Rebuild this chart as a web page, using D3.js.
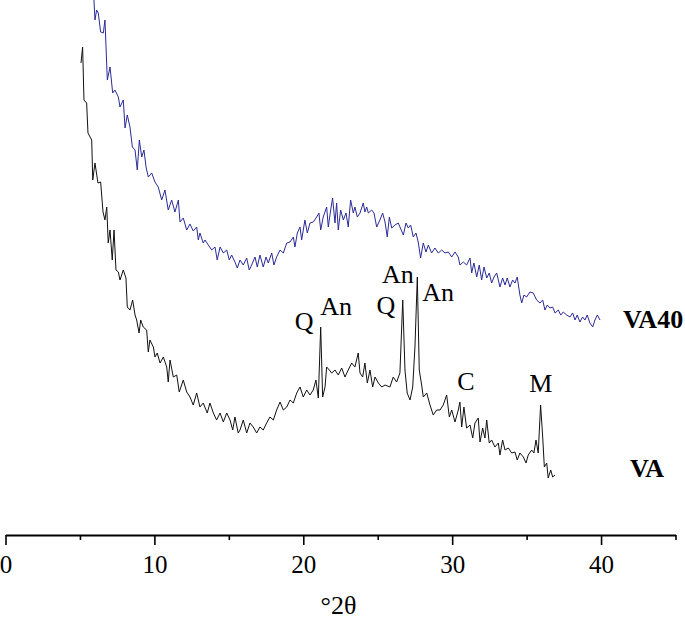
<!DOCTYPE html>
<html>
<head>
<meta charset="utf-8">
<script src="https://cdn.jsdelivr.net/npm/d3@7"></script>
<style>
  body { margin: 0; background: #fff; }
  svg { display: block; }
  svg text { font-family: "Liberation Serif", "Times New Roman", serif; }
</style>
</head>
<body>
<script>
// XRD patterns, [2theta, intensity (a.u., VA40 stacked above VA)]
const vaPattern = [
  [5.07,472],[5.18,488],[5.27,435],[5.45,432],[5.54,402],[5.79,395],[5.86,355],[6.01,372],[6.21,352],[6.39,353],
  [6.55,323],[6.68,315],[6.80,328],[6.90,292],[7.02,305],[7.17,275],[7.29,305],[7.42,265],[7.58,263],[7.69,255],
  [7.91,265],[8.09,257],[8.18,228],[8.36,225],[8.54,235],[8.70,220],[8.81,215],[8.97,202],[9.08,215],[9.25,208],
  [9.48,205],[9.59,183],[9.70,195],[9.93,188],[10.04,178],[10.19,182],[10.38,172],[10.60,178],[10.83,168],[10.93,153],
  [11.05,175],[11.27,158],[11.50,160],[11.67,143],[11.94,155],[12.17,143],[12.39,138],[12.61,130],[12.84,142],[13.06,128],
  [13.28,132],[13.55,122],[13.73,132],[13.96,122],[14.18,115],[14.41,122],[14.63,113],[14.86,122],[15.08,115],[15.26,105],
  [15.41,118],[15.63,102],[15.75,105],[15.97,115],[16.20,102],[16.42,112],[16.64,108],[16.87,102],[17.09,108],[17.31,105],
  [17.54,112],[17.76,118],[17.99,115],[18.21,125],[18.44,133],[18.66,125],[18.89,128],[19.11,135],[19.33,132],[19.56,142],
  [19.78,148],[20.00,138],[20.23,145],[20.45,140],[20.67,145],[20.85,155],[21.01,137],[21.17,208],[21.30,138],[21.46,148],
  [21.57,168],[21.75,165],[21.91,162],[22.13,165],[22.35,160],[22.58,167],[22.80,158],[23.02,165],[23.25,172],[23.47,168],
  [23.69,182],[23.81,162],[23.99,158],[24.14,172],[24.30,152],[24.48,165],[24.66,148],[24.82,158],[25.04,152],[25.27,148],
  [25.49,150],[25.82,148],[26.04,158],[26.27,153],[26.49,162],[26.68,235],[26.83,165],[26.98,142],[27.17,135],[27.35,148],
  [27.50,188],[27.66,258],[27.79,165],[27.95,150],[28.06,138],[28.29,142],[28.51,130],[28.73,120],[28.96,125],[29.18,125],
  [29.40,130],[29.63,140],[29.81,118],[29.97,125],[30.19,113],[30.41,125],[30.52,133],[30.64,108],[30.79,128],[30.97,107],
  [31.20,110],[31.38,97],[31.53,112],[31.75,117],[31.87,93],[32.05,107],[32.20,97],[32.32,115],[32.49,92],[32.65,95],
  [32.87,88],[33.10,92],[33.21,80],[33.39,95],[33.55,85],[33.77,87],[34.00,82],[34.22,83],[34.37,75],[34.55,82],
  [34.78,78],[34.96,72],[35.11,80],[35.34,85],[35.49,82],[35.63,95],[35.78,82],[35.94,130],[36.08,98],[36.19,68],
  [36.35,72],[36.45,57],[36.62,65],[36.75,58],[36.91,60]
];

const va40Pattern = [
  [5.94,535],[6.01,515],[6.12,525],[6.23,522],[6.39,503],[6.57,502],[6.68,515],[6.84,455],[7.02,468],[7.20,442],
  [7.35,445],[7.58,438],[7.69,428],[7.91,435],[8.03,407],[8.18,420],[8.36,408],[8.52,388],[8.70,385],[8.85,365],
  [8.99,395],[9.15,378],[9.30,385],[9.44,368],[9.59,358],[9.82,362],[10.04,353],[10.26,348],[10.49,335],[10.71,345],
  [10.93,325],[11.16,335],[11.38,323],[11.61,335],[11.72,313],[11.94,317],[12.17,305],[12.39,311],[12.61,304],[12.84,308],
  [12.95,295],[13.06,302],[13.28,292],[13.40,295],[13.62,290],[13.85,285],[14.07,288],[14.22,275],[14.41,288],[14.63,282],
  [14.86,285],[15.03,275],[15.19,280],[15.41,273],[15.57,267],[15.75,275],[15.97,270],[16.20,277],[16.37,265],[16.53,270],
  [16.76,278],[16.91,268],[17.09,280],[17.31,268],[17.50,278],[17.65,272],[17.88,282],[18.03,270],[18.21,278],[18.44,285],
  [18.66,282],[18.89,292],[19.11,293],[19.33,298],[19.44,288],[19.60,302],[19.78,308],[19.89,295],[20.11,315],[20.27,302],
  [20.45,312],[20.67,313],[20.90,318],[21.05,322],[21.17,305],[21.34,318],[21.57,328],[21.68,308],[21.84,325],[21.97,337],
  [22.13,312],[22.24,332],[22.35,305],[22.51,325],[22.69,315],[22.87,322],[23.02,308],[23.18,335],[23.36,322],[23.47,328],
  [23.63,318],[23.81,322],[24.03,332],[24.14,323],[24.26,328],[24.37,322],[24.59,325],[24.75,322],[24.93,308],[25.15,315],
  [25.33,322],[25.49,313],[25.64,298],[25.78,318],[25.94,307],[26.16,310],[26.38,312],[26.72,300],[26.90,312],[27.05,307],
  [27.21,310],[27.39,298],[27.57,302],[27.72,293],[27.88,277],[28.06,292],[28.24,283],[28.40,290],[28.62,282],[28.84,287],
  [29.07,282],[29.30,285],[29.52,282],[29.74,283],[29.97,278],[30.19,283],[30.41,278],[30.52,270],[30.75,273],[30.97,270],
  [31.20,277],[31.31,262],[31.46,272],[31.65,258],[31.82,270],[31.98,255],[32.14,268],[32.32,257],[32.49,262],[32.65,252],
  [32.81,258],[32.99,262],[33.21,248],[33.39,257],[33.55,250],[33.70,257],[33.88,248],[34.06,255],[34.22,252],[34.37,258],
  [34.55,240],[34.67,232],[34.82,240],[35.00,238],[35.22,243],[35.45,242],[35.67,235],[35.90,232],[36.08,235],[36.23,225],
  [36.39,230],[36.57,227],[36.75,228],[36.91,222],[37.13,225],[37.29,220],[37.46,223],[37.69,220],[37.91,218],[38.09,222],
  [38.25,215],[38.40,220],[38.58,213],[38.76,218],[38.92,215],[39.07,220],[39.25,212],[39.44,208],[39.59,215],[39.75,220],
  [39.93,215]
];

// phase labels: name, 2theta and intensity where the label sits
const peakNames = ["Q", "An", "Q", "An", "An", "C", "M"];
const peakTwoTheta = [20.05, 22.20, 25.55, 26.36, 29.05, 30.93, 35.96];
const peakLevel = [205, 220, 221, 252, 234, 145, 143];

const seriesNames = ["VA40", "VA"];
const seriesLabelTwoTheta = [41.47, 41.94];
const seriesLabelLevel = [207, 58];

const xTicks = [0, 5, 10, 15, 20, 25, 30, 35, 40, 45];

var w = 685;
var h = 622;
var serif = "'Liberation Serif', 'Times New Roman', serif";

let x = d3.scaleLinear().domain([0, 45]).range([5.5, 675.5]);
let y = d3.scaleLinear().domain([0, 535]).range([535, 0]);

let svg = d3.select("body")
  .append("svg")
  .attr("width", w)
  .attr("height", h)
  .attr("font-family", serif);

let line = d3.line()
  .x(function (d) { return x(d[0]); })
  .y(function (d) { return y(d[1]); });

svg.append("path")
  .datum(va40Pattern)
  .attr("fill", "none")
  .attr("stroke", "#2b2b98")
  .attr("stroke-width", 1)
  .attr("d", line);

svg.append("path")
  .datum(vaPattern)
  .attr("fill", "none")
  .attr("stroke", "#111")
  .attr("stroke-width", 1)
  .attr("d", line);

// x axis
let axis = svg.append("g")
  .attr("transform", "translate(0," + y(0) + ")")
  .call(d3.axisBottom(x)
    .tickValues(xTicks)
    .tickSizeInner(10)
    .tickSizeOuter(0)
    .tickFormat(function (d) { return d % 10 === 0 ? d : ""; }));

axis.attr("font-family", serif).attr("font-size", 25);
axis.select(".domain").attr("stroke", "#000").attr("stroke-width", 1.8);
axis.selectAll(".tick line")
  .attr("stroke", "#000")
  .attr("stroke-width", 1.6)
  .attr("y2", function (d) { return d % 10 === 0 ? 10 : 5; });
axis.selectAll(".tick text")
  .attr("y", 38)
  .attr("dy", 0)
  .attr("fill", "#000")
  .attr("font-family", serif)
  .attr("font-size", 25);

svg.append("text")
  .attr("x", x(22.5) - 2)
  .attr("y", 614)
  .attr("text-anchor", "middle")
  .attr("font-size", 26)
  .text("°2θ");

// peak annotations
svg.selectAll("text.peak")
  .data(peakNames)
  .enter()
  .append("text")
  .attr("class", "peak")
  .attr("x", function (d, i) { return x(peakTwoTheta[i]); })
  .attr("y", function (d, i) { return y(peakLevel[i]); })
  .attr("text-anchor", "middle")
  .attr("font-size", 26)
  .text(function (d) { return d; });

svg.selectAll("text.series")
  .data(seriesNames)
  .enter()
  .append("text")
  .attr("class", "series")
  .attr("x", function (d, i) { return x(seriesLabelTwoTheta[i]); })
  .attr("y", function (d, i) { return y(seriesLabelLevel[i]); })
  .attr("font-size", 26)
  .attr("font-weight", "bold")
  .text(function (d) { return d; });
</script>
</body>
</html>
